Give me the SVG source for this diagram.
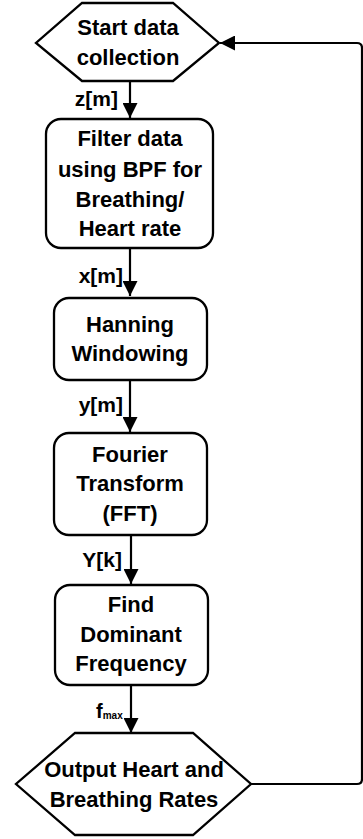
<svg xmlns="http://www.w3.org/2000/svg" width="363" height="839" viewBox="0 0 363 839">
<defs>
<marker id="ah" markerWidth="15" markerHeight="15" viewBox="0 0 15 15" refX="15" refY="7.5" orient="auto" markerUnits="userSpaceOnUse">
<path d="M0,0 L15,7.5 L0,15 Z" fill="#000"/>
</marker>
<style>
.shape{fill:#fff;stroke:#000;stroke-width:2.3}
.conn{fill:none;stroke:#000;stroke-width:2.2}
.t{font-family:"Liberation Sans",Arial,sans-serif;font-weight:bold;font-size:22px;fill:#000;text-anchor:middle}
.lbl{font-family:"Liberation Sans",Arial,sans-serif;font-weight:bold;font-size:21px;fill:#000;text-anchor:end}
</style>
</defs>
<rect width="363" height="839" fill="#fff"/>
<g id="connectors">
<line class="conn" x1="130" y1="81" x2="130" y2="118" marker-end="url(#ah)"/>
<line class="conn" x1="130" y1="248" x2="130" y2="296" marker-end="url(#ah)"/>
<line class="conn" x1="130" y1="380" x2="130" y2="432" marker-end="url(#ah)"/>
<line class="conn" x1="131" y1="535" x2="131" y2="584" marker-end="url(#ah)"/>
<line class="conn" x1="131" y1="685" x2="131" y2="733" marker-end="url(#ah)"/>
<path class="conn" d="M251,784 H357 Q362,784 362,779 V48 Q362,43 357,43 H220" marker-end="url(#ah)"/>
<text class="lbl" x="118" y="106">z[m]</text>
<text class="lbl" x="123" y="283">x[m]</text>
<text class="lbl" x="123" y="412">y[m]</text>
<text class="lbl" x="122" y="567">Y[k]</text>
<text x="96" y="718" font-family="Liberation Sans,Arial,sans-serif" font-weight="bold" font-size="20">f<tspan font-size="10" dy="1">max</tspan></text>
</g>
<g id="start">
<polygon class="shape" points="82,3 173,3 219,43 173,81 82,81 36,43"/>
<text class="t" x="128" y="35">Start data</text>
<text class="t" x="128" y="65">collection</text>
</g>
<g id="filter">
<rect class="shape" x="46" y="119" width="167" height="129" rx="15"/>
<text class="t" x="130" y="146">Filter data</text>
<text class="t" x="130" y="177">using BPF for</text>
<text class="t" x="130" y="207">Breathing/</text>
<text class="t" x="130" y="236">Heart rate</text>
</g>
<g id="hanning">
<rect class="shape" x="54" y="298" width="153" height="82" rx="15"/>
<text class="t" x="130" y="332">Hanning</text>
<text class="t" x="130" y="361">Windowing</text>
</g>
<g id="fft">
<rect class="shape" x="54" y="433" width="153" height="102" rx="15"/>
<text class="t" x="130" y="462">Fourier</text>
<text class="t" x="130" y="491">Transform</text>
<text class="t" x="130" y="521">(FFT)</text>
</g>
<g id="dominant">
<rect class="shape" x="55" y="585" width="153" height="100" rx="15"/>
<text class="t" x="131" y="612">Find</text>
<text class="t" x="131" y="642">Dominant</text>
<text class="t" x="131" y="671">Frequency</text>
</g>
<g id="output">
<polygon class="shape" points="75,733 193,733 251,784 193,835 75,835 16,784"/>
<text class="t" x="134" y="777">Output Heart and</text>
<text class="t" x="134" y="807">Breathing Rates</text>
</g>
</svg>
